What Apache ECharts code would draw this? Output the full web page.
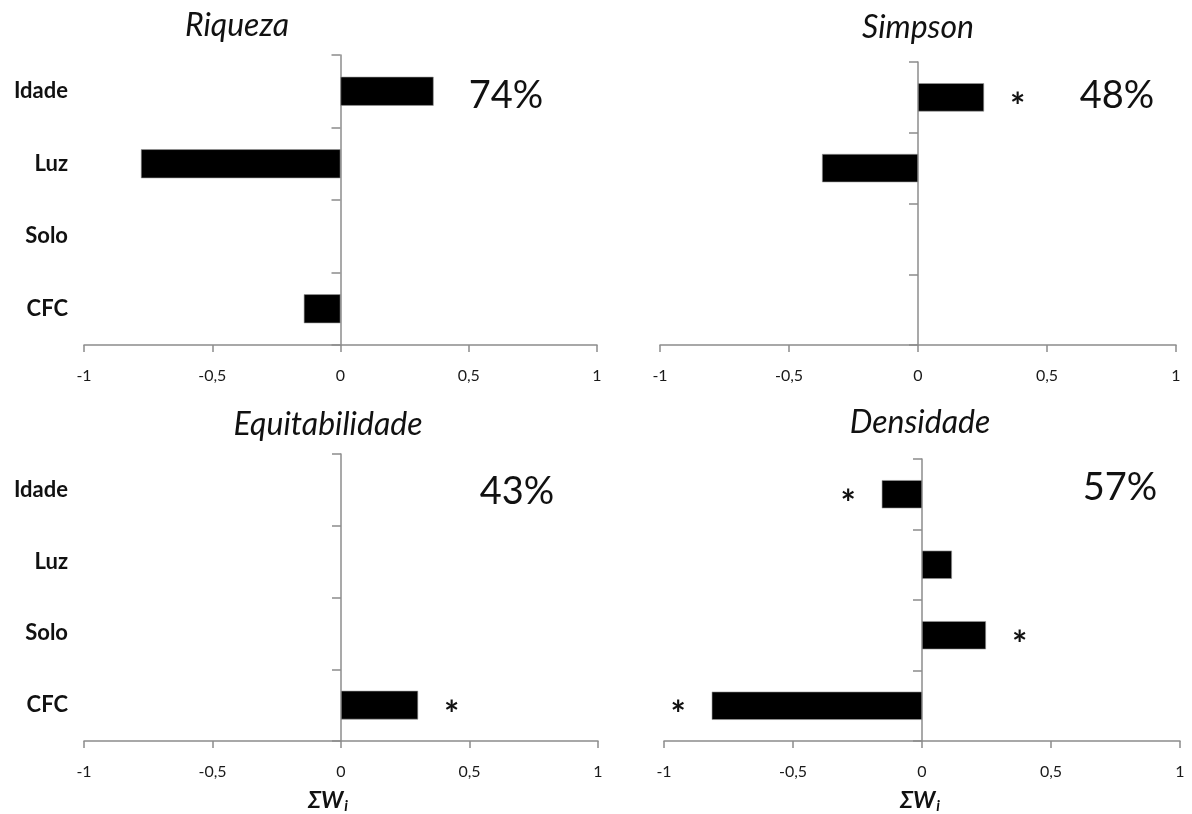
<!DOCTYPE html>
<html>
<head>
<meta charset="utf-8">
<script src="https://cdn.jsdelivr.net/npm/echarts@6/dist/echarts.min.js"></script>
<style>
  html, body { margin: 0; padding: 0; background: #fff; }
  #chart { width: 1192px; height: 814px; }
</style>
</head>
<body>
<div id="chart"></div>
<script>
// Explanatory variables (rows, top to bottom)
const categories = ['Idade', 'Luz', 'Solo', 'CFC'];

// Sum of Akaike weights (ΣWi) per variable, signed by effect direction
const riqueza        = [0.363, -0.778, null, -0.143];
const simpson        = [0.256, -0.372, null, null];
const equitabilidade = [null, null, null, 0.300];
const densidade      = [-0.156, 0.116, 0.248, -0.815];

// Significant effects (marked with an asterisk)
const sigRiqueza        = [0, 0, 0, 0];
const sigSimpson        = [1, 0, 0, 0];
const sigEquitabilidade = [0, 0, 0, 1];
const sigDensidade      = [1, 0, 1, 1];

// Explained variance of each model
const panelTitles = ['Riqueza', 'Simpson', 'Equitabilidade', 'Densidade'];
const explained   = ['74%', '48%', '43%', '57%'];

// Value axis ticks
const xMin = -1, xMax = 1, xStep = 0.5;

const FONT = 'Lato, "Open Sans", sans-serif';
const AXIS_GREY = '#8c8c8c';

const panels = [
  { values: riqueza,        sig: sigRiqueza,        grid: { left: 84,  top: 55,  width: 513, height: 290 }, catLabels: true },
  { values: simpson,        sig: sigSimpson,        grid: { left: 660, top: 62,  width: 516, height: 283 }, catLabels: false },
  { values: equitabilidade, sig: sigEquitabilidade, grid: { left: 84,  top: 454, width: 514, height: 287 }, catLabels: true },
  { values: densidade,      sig: sigDensidade,      grid: { left: 664, top: 459, width: 516, height: 282 }, catLabels: false }
];

const grids = [], xAxes = [], yAxes = [], series = [], graphics = [];

panels.forEach((p, i) => {
  grids.push(p.grid);

  xAxes.push({
    type: 'value', gridIndex: i, min: xMin, max: xMax, interval: xStep,
    axisLine: { show: true, onZero: false, lineStyle: { color: AXIS_GREY, width: 1.5 } },
    axisTick: { show: true, length: 7, lineStyle: { color: AXIS_GREY, width: 1.5 } },
    splitLine: { show: false },
    axisLabel: {
      margin: 23, color: '#1a1a1a', fontSize: 16, fontFamily: FONT,
      formatter: v => String(v).replace('.', ',')
    }
  });

  // Axis line at zero with band separator ticks
  const yLineIndex = yAxes.length;
  yAxes.push({
    type: 'category', gridIndex: i, data: categories, inverse: true,
    axisLine: { show: true, onZero: true, lineStyle: { color: AXIS_GREY, width: 1.5 } },
    axisTick: { show: true, length: 9, lineStyle: { color: AXIS_GREY, width: 1.5 } },
    axisLabel: { show: false },
    splitLine: { show: false }
  });

  // Variable names on the left edge of the left-hand panels
  if (p.catLabels) {
    yAxes.push({
      type: 'category', gridIndex: i, data: categories, inverse: true, position: 'left',
      axisLine: { show: false, onZero: false },
      axisTick: { show: false },
      axisLabel: { margin: 16, color: '#111', fontSize: 22, fontWeight: 'bold', fontFamily: FONT },
      splitLine: { show: false }
    });
  }

  series.push({
    type: 'bar', xAxisIndex: i, yAxisIndex: yLineIndex,
    barWidth: '40%',
    itemStyle: { color: '#000', borderColor: '#9a9a9a', borderWidth: 0.6 },
    data: p.values.map(v => ({
      value: v,
      label: { position: v !== null && v < 0 ? 'left' : 'right' }
    })),
    label: {
      show: true, distance: 26, color: '#111', fontSize: 36, fontWeight: 'bold',
      fontFamily: FONT, offset: [0, 10],
      formatter: d => (p.sig[d.dataIndex] ? '*' : '')
    },
    silent: true
  });
});

// Panel titles
const titlePos = [[237, 26], [918, 28], [328, 425], [920, 423]];
panelTitles.forEach((t, i) => {
  graphics.push({
    type: 'text', x: titlePos[i][0], y: titlePos[i][1],
    style: { text: t, font: 'italic 32px ' + FONT, fill: '#111', align: 'center', verticalAlign: 'middle' }
  });
});

// Explained variance annotations
const pctPos = [[506, 96], [1117, 96], [517, 492], [1120, 488]];
explained.forEach((t, i) => {
  graphics.push({
    type: 'text', x: pctPos[i][0], y: pctPos[i][1],
    style: { text: t, font: '38px ' + FONT, fill: '#111', align: 'center', verticalAlign: 'middle' }
  });
});

// Axis name ΣWi under the bottom panels
[[328, 801], [920, 801]].forEach(pos => {
  graphics.push({
    type: 'text', x: pos[0], y: pos[1],
    style: {
      text: '{m|ΣW}{s|i}', align: 'center', verticalAlign: 'middle',
      rich: {
        m: { fontFamily: FONT, fontSize: 23, fontWeight: 'bold', fontStyle: 'italic', fill: '#111' },
        s: { fontFamily: FONT, fontSize: 15, fontWeight: 'bold', fontStyle: 'italic', fill: '#111', padding: [11, 0, 0, 1] }
      }
    }
  });
});

const chart = echarts.init(document.getElementById('chart'), null, { renderer: 'canvas' });
chart.setOption({
  animation: false,
  backgroundColor: '#fff',
  grid: grids,
  xAxis: xAxes,
  yAxis: yAxes,
  series: series,
  graphic: graphics
});
</script>
</body>
</html>
